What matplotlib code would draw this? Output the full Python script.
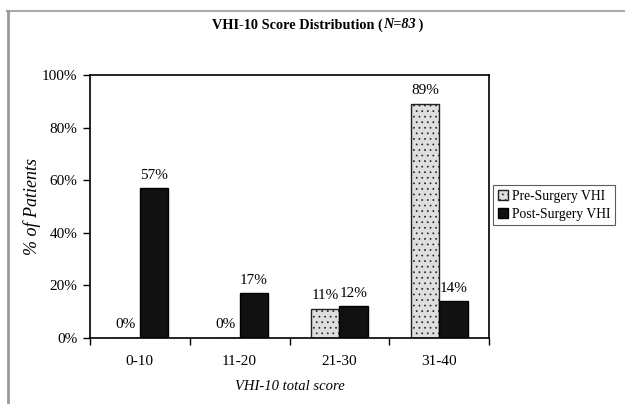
import matplotlib
matplotlib.use("Agg")
import matplotlib.pyplot as plt
import numpy as np
from matplotlib.lines import Line2D

categories = ["0-10", "11-20", "21-30", "31-40"]
pre_surgery = [0, 0, 11, 89]
post_surgery = [57, 17, 12, 14]
series_names = ["Pre-Surgery VHI", "Post-Surgery VHI"]
yticks = [0, 20, 40, 60, 80, 100]

plt.rcParams['font.family'] = ['Liberation Serif', 'DejaVu Serif']
plt.rcParams['hatch.linewidth'] = 0.5
plt.rcParams['hatch.color'] = '#c4c4c4'

fig = plt.figure(figsize=(6.25, 4.04), dpi=100)
W, H = 625, 404
ax = fig.add_axes([90 / W, 1 - 338 / H, 399 / W, 263 / H])

x = np.arange(len(categories))
bw = 0.285
b1 = ax.bar(x - bw / 2, pre_surgery, bw, color='#dedede', edgecolor='#222222',
            linewidth=1.0, hatch='...', label=series_names[0])
b2 = ax.bar(x + bw / 2, post_surgery, bw, color='#111111', edgecolor='#000000',
            linewidth=1.0, label=series_names[1])

for xi, v in zip(x, pre_surgery):
    ax.text(xi - bw / 2, v + 2.5, f"{v}%", ha='center', va='bottom', fontsize=11)
for xi, v in zip(x, post_surgery):
    ax.text(xi + bw / 2, v + 2.5, f"{v}%", ha='center', va='bottom', fontsize=11)

ax.set_xlim(-0.5, len(categories) - 0.5)
ax.set_ylim(0, 100)
ax.set_yticks(yticks)
ax.set_yticklabels([f"{t}%" for t in yticks], fontsize=11)
ax.set_xticks(x)
ax.set_xticklabels(categories, fontsize=11)
ax.tick_params(axis='x', length=0, pad=12)
ax.set_xticks(np.arange(len(categories) + 1) - 0.5, minor=True)
ax.tick_params(axis='x', which='minor', length=5, direction='out', width=1.0)
ax.tick_params(axis='y', length=5, direction='out', width=1.0, pad=4)
for s in ax.spines.values():
    s.set_linewidth(1.2)

ax.set_ylabel("% of Patients", fontstyle='italic', fontsize=13)
ax.yaxis.set_label_coords((41 - 90) / 399, 0.5)
ax.set_xlabel("VHI-10 total score", fontstyle='italic', fontsize=10.5, labelpad=9)

leg = fig.legend(handles=[b1, b2], labels=series_names,
                 loc='upper left', bbox_to_anchor=(493 / W, 1 - 185 / H),
                 fontsize=9.8, frameon=True, fancybox=False, edgecolor='#333333',
                 handlelength=0.75, handleheight=0.75, handletextpad=0.3,
                 borderpad=0.35, labelspacing=0.35, borderaxespad=0)
leg.get_frame().set_linewidth(0.8)
leg.get_frame().set_facecolor('white')

# title made of pieces (bold upright + bold italic)
fig.canvas.draw()
r = fig.canvas.get_renderer()
parts = [("VHI-10 Score Distribution (", 'normal'), ("N=83", 'italic'), (" )", 'normal')]
texts = []
for s, st in parts:
    t = fig.text(0, 1 - 25 / H, s, fontsize=10.3, fontweight='bold', fontstyle=st,
                 va='center', ha='left')
    texts.append(t)
widths = [t.get_window_extent(r).width for t in texts]
total = sum(widths)
xpos = 318 - total / 2
for t, w in zip(texts, widths):
    t.set_x(xpos / W)
    xpos += w

# gray frame lines
fig.add_artist(Line2D([7 / W, 1], [1 - 10.5 / H, 1 - 10.5 / H], color='#aaaaaa', lw=1.5))
fig.add_artist(Line2D([7.5 / W, 7.5 / W], [0, 1 - 10.5 / H], color='#999999', lw=2))

fig.savefig("out.png", dpi=100)
